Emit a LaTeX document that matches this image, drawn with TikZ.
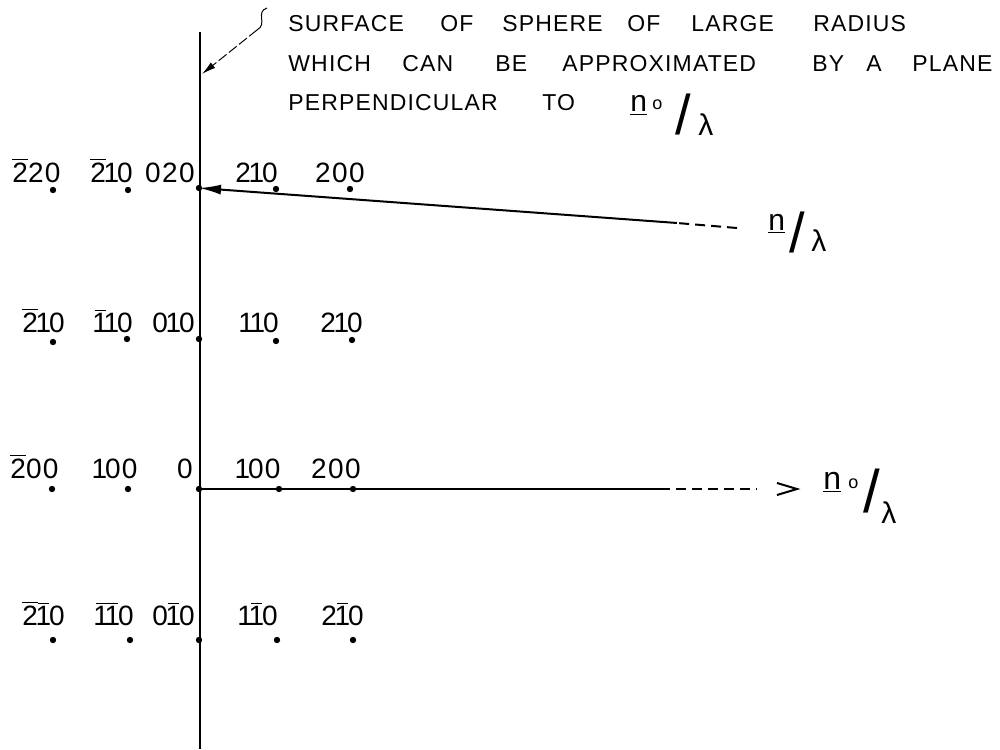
\documentclass[tikz,border=0pt]{standalone}
\usepackage{fontspec}
\usepackage{graphicx}
\setmainfont{Liberation Sans}[LetterSpace=5]
\usetikzlibrary{arrows.meta}
\newcommand\ob[1]{\ensuremath{\overline{\mbox{#1}}}}
\newcommand\nar{\makebox[0.4em][c]{1}}
\begin{document}
\begin{tikzpicture}[x=0.5pt,y=-0.5pt,
  dot/.style={circle,fill=black,inner sep=0pt,minimum size=3.2pt},
  idx/.style={font=\fontsize{14}{14}\selectfont,inner sep=0pt,anchor=base east},
  word/.style={font=\fontsize{11.5}{11.5}\selectfont,inner sep=0pt,anchor=base west},
  vec/.style={font=\fontsize{15}{15}\selectfont,inner sep=0pt,anchor=base west},
  sub/.style={font=\fontsize{9}{9}\selectfont,inner sep=0pt,anchor=base west},
  slash/.style={font=\fontsize{28}{28}\selectfont,inner sep=0pt,anchor=base west},
  axis/.style={line width=1pt},
  ray/.style={line width=1pt},
  tip/.style={-{Latex[length=11pt,width=5pt]}},
  dashedray/.style={line width=1pt,dash pattern=on 5pt off 3pt},
  leader/.style={line width=0.5pt}]
\useasboundingbox (0,0) rectangle (1000,749);

% the plane (vertical line)
\coordinate (vtop) at (200,32);
\coordinate (vbot) at (200,749);
\draw[axis] (vtop) -- (vbot);

% leader with squiggle
\coordinate (sq0) at (267,8);
\coordinate (sq1) at (257,30);
\coordinate (lend) at (202,74);
\draw[leader] (sq0) .. controls (255,12) and (268,24) .. (sq1);
\draw[leader,dash pattern=on 5pt off 1.5pt,-{Latex[length=7pt,width=3.5pt]}] (sq1) -- (lend);

% caption text
\node[word] (w1) at (288,32) {SURFACE};
\node[word] (w2) at (440,32) {OF};
\node[word] (w3) at (502,32) {SPHERE};
\node[word] (w4) at (627,32) {OF};
\node[word] (w5) at (691,32) {LARGE};
\node[word] (w6) at (813,32) {RADIUS};
\node[word] (w7) at (288,72) {WHICH};
\node[word] (w8) at (402,72) {CAN};
\node[word] (w9) at (495,72) {BE};
\node[word] (w10) at (562,72) {APPROXIMATED};
\node[word] (w11) at (812,72) {BY};
\node[word] (w12) at (866,72) {A};
\node[word] (w13) at (912,72) {PLANE};
\node[word] (w14) at (288,111) {PERPENDICULAR};
\node[word] (w15) at (542,111) {TO};
\node[vec] (tn) at (630,112) {\underline{n}};
\node[sub] (to) at (652,110) {o};
\node[slash] (ts) at (675,134) {/};
\node[vec] (tl) at (698,135) {λ};

% row 1
\node[dot] (a1) at (53,190) {};
\node[dot] (a2) at (128,190) {};
\node[dot] (a3) at (199,188) {};
\node[dot] (a4) at (276,189) {};
\node[dot] (a5) at (350,189) {};
\node[idx] (la1) at (61,182) {\ob{2}20};
\node[idx] (la2) at (133,182) {\ob{2}\nar0};
\node[idx] (la3) at (195,182) {020};
\node[idx] (la4) at (278,182) {2\nar0};
\node[idx] (la5) at (365,182) {200};

% row 2
\node[dot] (b1) at (53,342) {};
\node[dot] (b2) at (127,339) {};
\node[dot] (b3) at (199,339) {};
\node[dot] (b4) at (276,341) {};
\node[dot] (b5) at (352,340) {};
\node[idx] (lb1) at (65,332) {\ob{2}\nar0};
\node[idx] (lb2) at (133,332) {\ob{\nar}\nar0};
\node[idx] (lb3) at (195,332) {0\nar0};
\node[idx] (lb4) at (279,332) {\nar\nar0};
\node[idx] (lb5) at (363,332) {2\nar0};

% row 3
\node[dot] (c1) at (52,489) {};
\node[dot] (c2) at (128,489) {};
\node[dot] (c3) at (199,489) {};
\node[dot] (c4) at (279,489) {};
\node[dot] (c5) at (353,489) {};
\node[idx] (lc1) at (59,478) {\ob{2}00};
\node[idx] (lc2) at (138,478) {\nar00};
\node[idx] (lc3) at (193,478) {0};
\node[idx] (lc4) at (281,478) {\nar00};
\node[idx] (lc5) at (361,478) {200};

% row 4
\node[dot] (d1) at (53,640) {};
\node[dot] (d2) at (130,640) {};
\node[dot] (d3) at (199,640) {};
\node[dot] (d4) at (277,640) {};
\node[dot] (d5) at (353,640) {};
\node[idx] (ld1) at (65,625) {\ob{2}\ob{\nar}0};
\node[idx] (ld2) at (134,625) {\ob{\nar}\ob{\nar}0};
\node[idx] (ld3) at (195,625) {0\ob{\nar}0};
\node[idx] (ld4) at (278,625) {\nar\ob{\nar}0};
\node[idx] (ld5) at (364,625) {2\ob{\nar}0};

% scattered wave n/lambda
\coordinate (ns) at (677,223);
\coordinate (nd) at (737,228);
\draw[ray,tip] (ns) -- (a3.center);
\draw[dashedray] (nd) -- (ns);
\node[vec] (nn) at (768,230) {\underline{n}};
\node[slash] (nsl) at (789,252) {/};
\node[vec] (nl) at (811,251) {λ};

% incident wave n0/lambda
\coordinate (n0s) at (660,489);
\coordinate (n0d) at (757,489);
\draw[ray] (c3.center) -- (c4.center) -- (c5.center) -- (n0s);
\draw[dashedray] (n0s) -- (n0d);
\coordinate (chA) at (777,483);
\coordinate (chT) at (797,489);
\coordinate (chB) at (777,495);
\draw[ray] (chA) -- (chT) -- (chB);
\node[vec,font=\fontsize{16}{16}\selectfont] (mn) at (823,489) {\underline{n}};
\node[sub] (mo) at (848,488) {o};
\node[slash,font=\fontsize{30}{30}\selectfont] (msl) at (863,512) {/};
\node[vec] (ml) at (881,523) {λ};
\end{tikzpicture}
\end{document}
